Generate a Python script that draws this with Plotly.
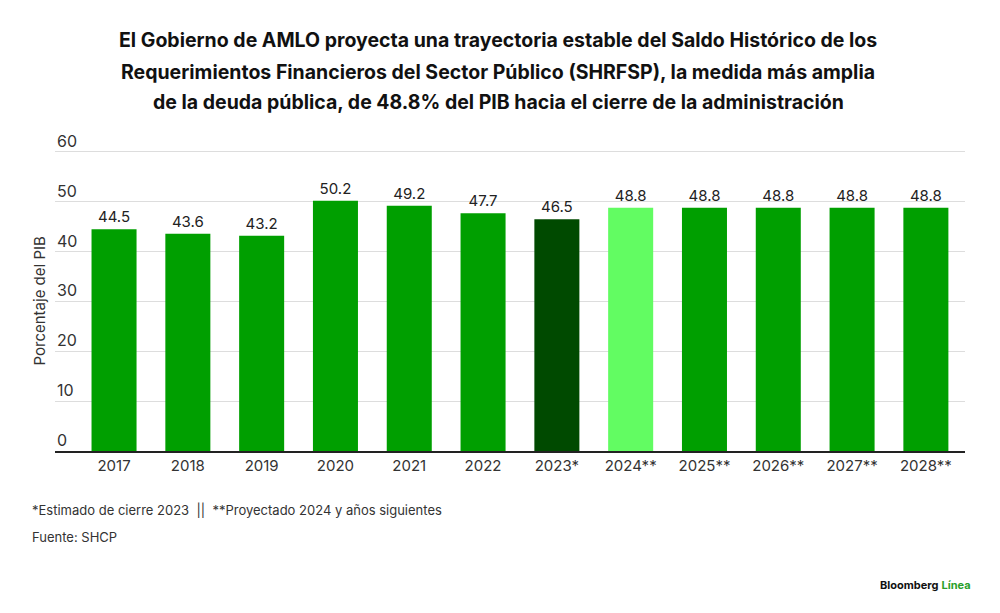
import plotly.graph_objects as go

categories = ["2017", "2018", "2019", "2020", "2021", "2022", "2023*",
              "2024**", "2025**", "2026**", "2027**", "2028**"]
values = [44.5, 43.6, 43.2, 50.2, 49.2, 47.7, 46.5, 48.8, 48.8, 48.8, 48.8, 48.8]
y_ticks = [0, 10, 20, 30, 40, 50, 60]

MAIN = "#009f00"
DARK = "#004a00"
LIGHT = "#62fc62"
colors = [MAIN] * 6 + [DARK, LIGHT] + [MAIN] * 4

FONT = "Inter, Roboto, sans-serif"

# page body has an 8px default margin; layout numbers compensate for it
L, R, T, B = 47, 43, 124, 170
PW = 1000 - L - R

fig = go.Figure()
fig.add_trace(go.Bar(
    x=categories, y=values,
    marker=dict(color=colors, line=dict(width=0)),
    text=[f"{v:.1f}" for v in values],
    textposition="outside",
    textfont=dict(size=15, color="#222222", family=FONT),
    cliponaxis=False,
    hoverinfo="skip",
))

fig.update_layout(
    width=1000, height=613,
    paper_bgcolor="white", plot_bgcolor="white",
    margin=dict(l=L, r=R, t=T, b=B),
    bargap=0.39,
    showlegend=False,
    font=dict(family=FONT, color="#222222"),
    xaxis=dict(
        type="category",
        range=[-0.8, 11.53],
        showgrid=False,
        showline=True, linecolor="#222222", linewidth=2,
        ticks="", tickfont=dict(size=15, color="#333333", family=FONT),
        fixedrange=True,
    ),
    yaxis=dict(
        range=[0, 64],
        tickvals=y_ticks,
        showticklabels=False,
        showgrid=True, gridcolor="#dddddd", gridwidth=1,
        zeroline=False, showline=False,
        ticks="",
        fixedrange=True,
    ),
)

# y tick labels sitting above their gridlines
for t in y_ticks:
    fig.add_annotation(
        text=str(t), xref="paper", yref="y", x=0, y=t, xshift=0, yshift=-1,
        xanchor="left", yanchor="bottom", showarrow=False,
        font=dict(size=16, family=FONT, color="#333333"),
    )

title_lines = [
    "El Gobierno de AMLO proyecta una trayectoria estable del Saldo Histórico de los",
    "Requerimientos Financieros del Sector Público (SHRFSP), la medida más amplia",
    "de la deuda pública, de 48.8% del PIB hacia el cierre de la administración",
]
title_shifts = [92, 60, 30]
for line, ys in zip(title_lines, title_shifts):
    fig.add_annotation(
        text=line,
        xref="paper", yref="paper", x=(490 - L) / PW, y=1, yshift=ys,
        xanchor="center", yanchor="middle", showarrow=False,
        font=dict(size=19.5, family=FONT, color="#111111", weight="bold"),
    )
fig.add_annotation(
    text="Porcentaje del PIB",
    xref="paper", yref="paper", x=0, y=0.5 * 60 / 64, xshift=-16,
    textangle=-90, showarrow=False, xanchor="center", yanchor="middle",
    font=dict(size=15, family=FONT, color="#333333"),
)
fig.add_annotation(
    text="*Estimado de cierre 2023  ||  **Proyectado 2024 y años siguientes",
    xref="paper", yref="paper", x=(22 - L) / PW, y=0, yshift=-59,
    xanchor="left", yanchor="middle", showarrow=False,
    font=dict(size=13, family=FONT, color="#333333"),
)
fig.add_annotation(
    text="Fuente: SHCP",
    xref="paper", yref="paper", x=(22 - L) / PW, y=0, yshift=-86,
    xanchor="left", yanchor="middle", showarrow=False,
    font=dict(size=13, family=FONT, color="#333333"),
)
fig.add_annotation(
    text="<b>Bloomberg</b> <b><span style='color:#2aa02a'>Línea</span></b>",
    xref="paper", yref="paper", x=1, xshift=8, y=0, yshift=-134,
    xanchor="right", yanchor="middle", showarrow=False,
    font=dict(size=11, family=FONT, color="#111111"),
)

fig.write_html("out.html")
